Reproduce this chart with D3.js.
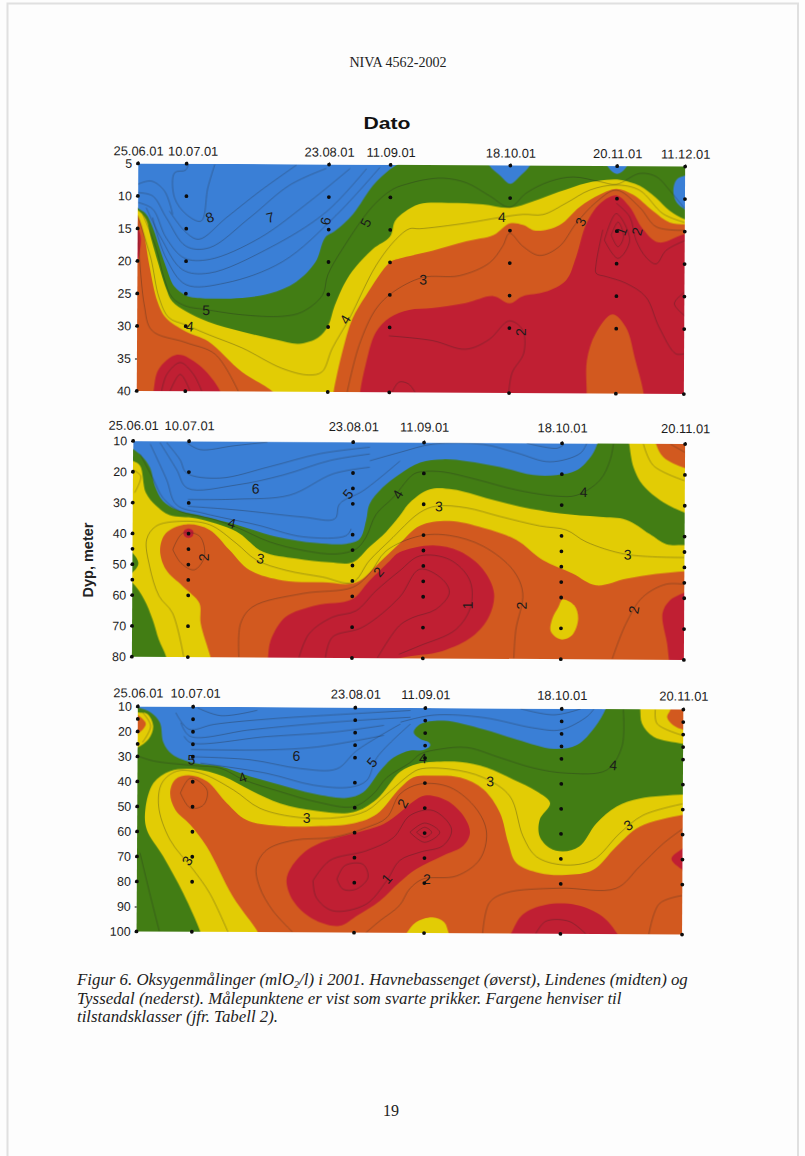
<!DOCTYPE html>
<html>
<head>
	<title></title>
	<script src="https://d3js.org/d3.v7.min.js"></script>
	<style>
		body { margin: 0; background: #fdfdfd; }
		svg { display: block; }
	</style>
</head>
<body>

<script>

var width = 805
var height = 1156

var colors = {blue: '#3a7fd6', green: '#427d14', yellow: '#e2cc05', orange: '#d2591f', red: '#c01f33'}

// sampling dates, days since 25.06.01
var days1 = [0, 15, 59, 78, 115, 148, 169]
var dates1 = ['25.06.01', '10.07.01', '23.08.01', '11.09.01', '18.10.01', '20.11.01', '11.12.01']
var days2 = [0, 15, 59, 78, 115, 148]
var dates2 = ['25.06.01', '10.07.01', '23.08.01', '11.09.01', '18.10.01', '20.11.01']

var yTicks1 = [5, 10, 15, 20, 25, 30, 35, 40]
var yTicks2 = [10, 20, 30, 40, 50, 60, 70, 80]
var yTicks3 = [10, 20, 30, 40, 50, 60, 70, 80, 90, 100]

// measuring depths per date
var samples1 = [[5, 10, 15, 20, 25, 30, 40], [5, 10, 15, 20, 25, 30, 40], [5, 10, 15, 20, 25, 30, 40], [5, 10, 15, 20, 25, 30, 40], [5, 10, 15, 20, 25, 30, 40], [5, 10, 15, 20, 25, 30, 40], [5, 10, 15, 20, 25, 30, 40]]
var samples2 = [[10, 20, 30, 40, 45, 50, 55, 60, 70, 80], [10, 20, 30, 40, 45, 50, 55, 60, 70, 80], [10, 20, 25, 30, 40, 45, 50, 55, 60, 70, 80], [10, 20, 30, 40, 45, 50, 55, 60, 70, 80], [10, 20, 30, 40, 45, 50, 55, 60, 70, 80], [10, 20, 30, 40, 45, 50, 55, 60, 70, 80]]
var samples3 = [[10, 15, 20, 25, 30, 40, 50, 60, 70, 80, 100], [10, 15, 20, 25, 30, 40, 50, 60, 70, 80, 100], [10, 15, 20, 25, 30, 40, 50, 60, 70, 80, 100], [10, 15, 20, 25, 30, 40, 50, 60, 70, 80, 100], [10, 15, 20, 25, 30, 40, 50, 60, 70, 80, 100], [10, 15, 20, 25, 30, 40, 50, 60, 70, 80, 100]]

// class areas as [day, depth], painted in this order
var areas1 = [
	['green', [[-5,10],[0,11.9],[2.6,12.8],[4.7,14.9],[6.8,18],[8.9,21],[11.4,23.9],[15,25.25],[18,25.6],[32.5,25.6],[41,24.9],[49,23.1],[55,20],[58,16.2],[61,15.2],[66.5,12.6],[72.6,8.2],[77.8,5.7],[81,4.6],[86,2],[176,2],[176,45],[-5,45]]],
	['blue', [[107,3],[108.5,5],[112,6.6],[115,7.8],[118,6.6],[121,5],[122,3]]],
	['blue', [[144,3],[145,5],[148,6.2],[151,5],[152,3]]],
	['blue', [[172,6],[169,6.4],[166.4,7],[165.4,8.7],[166.4,10.5],[169,11.6],[172,12.5]]],
	['yellow', [[-5,11],[0,12.2],[2.6,13.6],[4.1,16.4],[6.2,20],[8.8,24.1],[10.8,26.2],[15,27.7],[22,29.3],[32.5,30.8],[43,32],[50,32.6],[56,31.6],[59,29.8],[61,26.7],[65.5,22],[72.6,18],[78,16],[79.5,13.6],[82.5,12.2],[87,11],[96,10.8],[106.6,11],[115,11.5],[122,10.5],[130,9],[138.6,7.6],[144.7,7.1],[149,7.1],[155,8],[160,9.8],[164.3,11.8],[169,13.1],[175,13.6],[175,45],[-5,45]]],
	['orange', [[-4,11],[0,13.1],[2,16],[3.6,20.5],[6.2,26.2],[8.8,28.7],[15,30.8],[22,32.3],[32.5,37],[41.7,39.9],[45,42],[-4,44]]],
	['orange', [[60,43],[60.8,40],[63.4,33.9],[66.5,28.7],[70.6,25.15],[78,20],[81,19.4],[91,18.2],[101.5,16.7],[110,15.7],[115,13.9],[119,14.1],[123,15],[130.3,14.1],[136.5,11.3],[142.7,9.4],[147.8,8.5],[153,9.4],[159,11.8],[164.3,13.6],[169,13.9],[174,14],[174,44],[60,44]]],
	['red', [[-2,14],[0,14.9],[1,16.4],[0.7,18.5],[0,20],[-2,21]]],
	['red', [[4.5,43],[5.2,40],[6.7,36.7],[12.4,34.4],[19,35.9],[25.8,40],[27,43]]],
	['red', [[68.5,43],[69,40],[70.6,35.9],[73.7,30.8],[78,28.5],[84,27.3],[91,27],[101.5,26.2],[110,25.1],[115,26.2],[119,25.1],[126,24.4],[132.4,22.6],[135.5,19],[138.6,13.9],[142.7,10.8],[147.8,9.5],[152,11.3],[156,14.6],[161,16.7],[169,15.4],[174,15.2],[174,44]]],
	['orange', [[139,43],[139,40],[139,34.9],[141.6,30.8],[146.8,27.8],[151,29.8],[154,34.9],[156.6,40],[157,43]]]
]

var areas2 = [
	['green', [[-3,10.5],[0,12.7],[2.3,14.9],[4.6,18.7],[5.9,24.6],[8.1,29.5],[11.7,32.2],[17,33.8],[27.8,37],[38.5,40.8],[49.2,42.8],[57.3,43],[60.9,41.4],[62.6,35.4],[63.5,30],[67,24.6],[71.6,20.2],[77,16.5],[83.2,15.4],[89.5,16],[98.4,17.8],[107.3,20.3],[113.6,20.3],[119,18.7],[123,13.8],[124.5,10],[125.2,7],[153,6],[153,85],[-3,85]]],
	['yellow', [[-3,15],[0,16.5],[1.9,18],[3.5,26.8],[6.3,31],[9.9,34],[17,35],[27.8,39.2],[34.9,45.7],[43.9,47.9],[52.8,49],[59,49],[63.5,44],[68,39],[71.6,33.8],[74.3,29.5],[79.6,25.2],[85.9,25.2],[94.8,27.9],[103.8,30.6],[114.5,32.7],[125.2,33.8],[132.4,34.7],[138.6,39.2],[143.1,42.5],[148,42.8],[153,43],[153,85],[-3,85]]],
	['yellow', [[132.5,6],[133,10],[134.2,17.6],[136.8,23.5],[142.2,28.9],[148,32.2],[153,34],[153,6]]],
	['orange', [[139.5,6],[140.2,10],[142.2,14.3],[148,17.8],[153,19],[153,6]]],
	['green', [[-3,54],[0,56],[3.2,61.4],[5.5,67.9],[7.2,74.4],[9.2,80],[10,85],[-3,85]]],
	['green', [[-2,45],[0,46.3],[1.6,49.7],[0,52.7],[-2,54]]],
	['orange', [[22,85],[21.1,80],[18.4,69],[18,62.5],[13.5,57],[9,51.7],[7.4,45.2],[9,39.8],[14.4,37],[20.6,38.7],[26,45.2],[31.4,51.7],[40.3,55],[51,55.5],[60,55.5],[66.2,49],[71.6,42.8],[77,37],[85,35.4],[94,37.6],[102.9,41.4],[110,47.9],[118,52.2],[124.3,56],[132.4,53.8],[140.4,52.2],[148,51.3],[153,51],[153,85]]],
	['yellow', [[115.4,60.6],[118.5,62.5],[119.6,66.8],[118,72.2],[115,73.6],[112.3,71.1],[112.7,66.8],[114.3,63]]],
	['red', [[36,85],[36.5,80],[37.2,74.4],[41.2,66.8],[49.2,63],[59,60.9],[63.5,55],[69,48.4],[71.6,45.6],[80.5,43.3],[87.7,45.2],[94,51],[97,58.7],[95.7,66.3],[91.3,72.8],[83.2,77.6],[71.6,80],[60,85]]],
	['red', [[152,56],[148,58.2],[144,60.9],[142.2,65],[143.5,74.9],[144,80],[144.5,85],[152,85]]],
	['red', [[13.8,39],[15,38.3],[16.2,39],[16.2,40.6],[15,41.4],[13.8,40.6]]]
]

var areas3 = [
	['green', [[-3,9],[0,10.4],[3.5,12.4],[6,16.4],[7,24.4],[9.4,29.1],[15.3,32.5],[22.5,33.8],[30.6,37.8],[38.8,41.1],[47.8,44.5],[56.8,46.1],[61.3,43.8],[65.9,35.1],[69.5,29.8],[74,27],[77.6,26.8],[79.4,25],[79,23.7],[76.7,22.4],[74.9,19.7],[76.7,16.4],[83,15],[93.9,18.4],[102.9,22.4],[112.9,26],[119.2,24.4],[124.1,17.1],[126.9,10],[127.8,6],[153,6],[153,105],[-3,105]]],
	['yellow', [[-2,12],[0,12.4],[2.6,13],[4.2,17.8],[3,23],[0,26.4],[-2,27]]],
	['orange', [[-2,12.5],[0,13.5],[2.2,17],[0,21],[-2,22]]],
	['yellow', [[18,104],[17.3,100],[12.6,84.6],[7.1,69.9],[2.6,59.2],[2.2,51.2],[4.4,40.5],[8.9,35.8],[15.3,34.9],[23.4,37.8],[30.6,43.2],[38.8,48.5],[48.7,51.4],[58.6,51.8],[65,46.5],[71.3,35.5],[75.8,32.4],[80.3,31.5],[87.6,31.5],[94.8,33.7],[102,38.4],[108.3,43],[112,47.7],[109.2,54.4],[109.2,61],[112,65.7],[115.6,67],[120,65],[124.6,55.7],[130,49],[136.3,45.7],[148,44],[153,43.8],[153,104]]],
	['yellow', [[136,6],[136.3,10],[136.8,15.7],[140,21],[148,23.7],[153,25],[153,6]]],
	['orange', [[144.5,6],[144.5,10],[143.6,13],[145.4,16.4],[148,18],[152,19],[152,6]]],
	['orange', [[34,104],[32.9,100],[26.1,85.9],[18.9,65.9],[14.4,57.2],[10.3,51.2],[8.9,44.5],[10.3,39.1],[13.9,37.4],[18.9,39.8],[24.3,48.5],[29.7,55.2],[38.8,57.5],[48.7,57.5],[58.6,56.3],[65,52.5],[71.3,42],[74.9,37.7],[80.3,37],[87.6,37.7],[93.9,42.4],[98.4,51.7],[100.7,63.7],[102.9,71.7],[109.2,75.7],[116.5,76.4],[123.7,74.4],[130,65],[136.3,57],[148,52.1],[153,51],[153,104]]],
	['yellow', [[72,103],[73.3,100],[75.8,95.7],[80.3,93.7],[83.5,95.7],[84.7,100],[85.5,103]]],
	['red', [[40.6,79.3],[41.9,73.9],[46,67.2],[51.4,63.2],[58.6,60.3],[66.8,56.5],[71.3,51.8],[74,48.4],[78,45],[84,47],[88.5,53],[90.3,59.7],[88.5,65],[83,69],[75.8,74.4],[71.3,79.7],[65.9,87.3],[60,93],[55,97.3],[47.8,94.6],[42.4,87.3]]],
	['red', [[100.5,103],[101.6,100],[104.7,92.4],[111,88.4],[119.2,88.4],[126.4,93],[130.5,100],[131.5,103]]],
	['red', [[152,63],[148,65.7],[145,69.7],[148,74],[152,76]]]
]

// isolines as [day, depth]
var lines1 = [
	[[1.5,12.8],[5.7,17.9],[8.2,22.5],[10.8,25.6],[15,26.9],[21,27.4],[32.5,28.2],[44.8,28.4],[51,27.7],[57.2,25.1],[58.8,22],[63.4,17.9],[72.7,11.3],[78.9,8.7],[84,7.8],[88.1,7.3],[94.3,7],[101.5,7.7],[108.7,9.7],[114.9,11.4],[120,9.2],[127.2,7.4],[134.5,6.7],[142.7,7.4],[147.8,7.8],[155,6.1],[160.2,6.6],[164.3,8.7],[169,11.5]],
	[[0,13],[4.1,19.5],[6.7,25.6],[9.8,28.7],[15,29.8],[22.2,31.3],[32.5,33.3],[44.8,36.4],[53.1,37.4],[57.2,36.9],[60.3,33.3],[65.5,28.7],[73.7,20.5],[79.9,16.4],[84,14.8],[87.1,14.8],[101.5,13.9],[111.8,13],[119,12.5],[125.2,12.5],[132.4,10.7],[139.6,8.7],[147.8,7.9],[155,8.7],[162.3,12.3],[169,13.6]],
	[[0,14.3],[2.1,26.6],[4.6,30.7],[15,32.5],[24.2,34.3],[31.4,40]],
	[[65,40],[68.6,32.8],[73.7,27.2],[78.9,24.6],[88.1,22.3],[99.4,22],[108.7,20],[112.8,17.4],[114.9,15.4],[119,17.4],[124.2,18.8],[130.3,17.4],[135.5,13.8],[141.7,10.5],[147.8,8.7],[155,11.3],[160.2,14.3],[169,14.8]],
	[[77.8,31.3],[91.2,32],[101.5,33.3],[108.7,31.8],[114.9,28.9],[119,30.2],[119.5,33.8],[115.9,36.9],[114.9,40]],
	[[78.9,40],[81,38.4],[84,38.7],[86,40]],
	[[143.7,14.8],[141.7,20],[141.7,21.5],[144.8,22],[150.9,23],[157.1,25.1],[161.2,29.7],[166.4,33.8],[169,33.8]],
	[[147.8,10.7],[152,12.8],[154,16.4],[157.1,19],[160.2,20],[163.3,17.9],[169,16.4]],
	[[144.2,16.4],[147.8,12.3],[152,16.4],[148.4,19.2],[144.2,16.4]],
	[[146.3,15.6],[148.4,13.6],[150.1,15.9],[148.4,17.4],[146.3,15.6]],
	[[169,24.3],[165.9,26.1],[169,27.9]],
	[[7.7,40],[9.3,37.4],[13.4,35.6],[17.5,37.4],[20.1,40]],
	[[10.3,40],[13.4,37.4],[16.5,40]],
	[[49,5.1],[37.6,9.2],[27.3,13.3],[19,16.6],[15,15.6],[9.8,12.3]],
	[[58.2,5.6],[46.9,8.2],[34.5,13.3],[22.2,17.9],[15,17.7],[8.8,13.3],[4.6,10],[0,9.5]],
	[[65.5,5.6],[53.1,10.7],[37.6,16.4],[22.2,19.7],[14.4,19.5],[8.8,16.4],[4.6,12],[0,11]],
	[[70.6,5.6],[58.2,12.3],[40.7,17.9],[22.2,21.8],[13.9,21.3],[7.2,16.4],[2.6,11.8]],
	[[74.7,5.4],[61.3,12.8],[44.8,20],[27.3,23.3],[15,23.6],[8.8,19.5],[4.6,13.3]],
	[[23.7,5.1],[21.6,8.7],[19.6,13.8],[15,12.8],[11.3,10.2],[11.3,6.4],[14.7,6],[15.5,5.1]],
	[[0,8.2],[4.1,7.7],[8.2,9.2],[10.8,12.8]]
]

var lines2 = [
	[[1.9,14.3],[5.5,22.4],[8.1,28.4],[12.6,32.7],[20.6,34.9],[27.8,37.8],[36.7,42.5],[45.7,45.2],[54.6,46.3],[60,44.6],[62.6,40.8],[65.3,33.3],[69.8,27.9],[75.2,20.3],[77.9,19.4],[83.2,19.5],[92.2,21.9],[102.9,25.2],[113.6,27.1],[119,26.8],[125.2,21.9],[127.9,15.4],[128.8,10]],
	[[13.9,80],[10.8,65.7],[7.2,60.3],[4.6,50.6],[3.8,41.9],[6.3,37.6],[12.6,36],[20.6,37],[27.8,43],[33.2,48.4],[41.2,51.7],[51,53.8],[59,55.5],[63.5,48.4],[68.9,41.9],[77,32.7],[81.4,30.6],[89.5,31.1],[98.4,33.8],[109.1,36.8],[116.3,38.1],[121.6,41.9],[132.4,45.9],[148,46.8]],
	[[0,19.4],[2.1,21.4],[0.5,26.8]],
	[[136.8,10],[139.5,17],[148,21.9]],
	[[10.8,45.2],[13.5,39.8],[18,40.8],[19.3,47.3],[16.6,51.7],[13,49.5],[10.8,45.2]],
	[[28.7,80],[29.1,69],[32.3,63.6],[45.7,59.2],[59,57.1],[63.5,52.7],[68,45.2],[77,40.3],[85,40.1],[94,43.5],[102,51.1],[104.7,58.7],[102.9,70.6],[102.4,79.8]],
	[[128.8,79.8],[132.4,68.4],[136.8,59.8],[143.1,55.5],[148,55.5]],
	[[144,10],[148,12.7]],
	[[44.8,80],[47.5,72.2],[53.7,66.8],[60,64.7],[65.3,58.2],[71.6,51.7],[77,46.8],[85,47.9],[90.4,54.4],[90.8,62.9],[86.8,70.6],[77,76],[71.6,78.7]],
	[[51.9,80],[53.7,73.3],[61.8,70],[71.6,60.3],[77,51.1],[83.2,54.4],[85,58.7],[81.4,64.1],[75.2,66.8],[71.6,69.5],[65.8,80]],
	[[9,10.5],[12.6,16],[14.4,20.3],[23.3,21.9],[36.7,18.1],[50.1,13.8],[63.5,11.6]],
	[[7.2,10.5],[11.7,19.2],[14.6,25.2],[27.8,24.1],[40.3,20.8],[52.8,16],[63.5,13.8]],
	[[14.8,28.9],[27.8,28.7],[42.1,27.3],[53.7,20.3],[63.5,18.1]],
	[[14.8,31.1],[27.8,32.2],[45.7,34.4],[54.2,34.9],[55.5,30],[61.8,25.7],[71.6,16]],
	[[4.6,11],[9,22.4],[11.7,30.6],[18.9,33.3],[33.2,37],[45.7,40.8],[57.3,40.3],[58.6,38.1]],
	[[14.4,10.5],[18,12.7],[27,11.4],[36,10.2]],
	[[63.5,16],[71.6,13.2],[80.5,10.5],[93.9,10.5],[102.9,13.2],[111.8,16],[119.9,13.2],[121.6,10]],
	[[105.6,10],[113.6,11.6],[115.4,10.5]]
]

var lines3 = [
	[[0,29.8],[4.4,31.8],[15.3,33.5],[22.5,34.5],[28.8,39.1],[38.8,43.8],[48.7,47.8],[58.6,49.6],[64,44.5],[67.7,37.8],[74,31.8],[76.7,28.4],[82.1,26.4],[89.4,25.7],[98.4,29.7],[107.4,33.7],[116.5,35.7],[127.3,34.4],[131.4,25],[131.7,10]],
	[[24.8,100],[19.8,84.6],[15.3,75.2],[8.9,63.2],[5.8,49.8],[6.7,40.5],[10.7,35.8],[17.1,36.5],[26.1,43.2],[33.3,50.5],[44.2,54.1],[55,53.9],[62.2,51.2],[67.7,44.5],[74,36.5],[76.7,34.4],[84.9,34.4],[93.9,37.7],[101.1,45.1],[104.7,61.1],[108.3,69.1],[115.6,72.4],[123.7,70.4],[130.9,59.7],[137.2,52.4],[148,47.7]],
	[[0.8,68.6],[3.5,84.6],[6.2,100]],
	[[140.4,10],[140.9,15.7],[148,20.4]],
	[[1.3,12.4],[3.5,17.8],[1.3,24.4]],
	[[11.7,44.5],[14.4,38.5],[18.9,43.2],[18,49.2],[14.4,50.5],[11.7,44.5]],
	[[42.4,100],[36.9,91.3],[33.3,81.9],[32.4,73.9],[35.1,67.2],[42.4,63.2],[53.2,61.9],[62.2,57.9],[67.7,53.9],[71.3,44.4],[76.7,40.4],[84.9,41.7],[92.1,50.4],[94.8,59.7],[93,70.4],[86.7,77.1],[77.6,78.4],[74,82.4],[71.3,89],[65.9,95.3],[62.2,100]],
	[[93.9,100],[95.7,87.7],[100.2,83.7],[114.7,81.7],[130,81.7],[136.3,73],[142.7,63.7],[148,57.7]],
	[[139,100],[141.8,87.7],[148,84.4]],
	[[47.8,79.3],[52.3,71.2],[62.2,67.2],[69.5,61.9],[74,53],[80.3,51],[85.3,58.4],[83,65],[76.7,67.7],[71.3,71],[67.7,79.3],[62.2,88.6],[53.2,91.3],[48.7,86],[47.8,79.3]],
	[[54.3,78.6],[56.4,73.2],[61.3,72.6],[62.7,77.9],[59.5,82.6],[55.9,82.6],[54.3,78.6]],
	[[74,59.7],[78,56],[82.1,59.7],[78,63.7],[74,59.7]],
	[[75.8,59.7],[78,57.7],[79.9,59.7],[78,61.7],[75.8,59.7]],
	[[108.3,100],[111,95],[117.4,95],[121.9,100]],
	[[16.2,10.4],[22.5,13.5],[32.4,11.3]],
	[[10.3,12.4],[13.9,19],[20.7,17],[35.1,14.8],[58.6,12.4],[74,11]],
	[[11.7,16.4],[14.2,21.8],[30.6,19.1],[48.7,16.4],[62.2,14.8],[74,13.7]],
	[[12.6,21.8],[14.4,24.4],[35.1,21.8],[53.2,19.8],[66.8,17]],
	[[14.5,27.1],[35.1,27.1],[48.7,25.8],[66.8,21]],
	[[14.8,30],[30.6,31.1],[44.2,34.5],[54.1,34.5],[59.5,27.1],[71.3,16.4]],
	[[17.1,32.5],[35.1,36.5],[47.8,41.1],[57.7,41.8],[62.2,39.1],[65,29.8],[74,16.4]],
	[[71.3,15.7],[80.3,12.8],[93.9,13.7],[107.4,17.7],[114.7,18.4],[121.9,13],[123.7,10]],
	[[103.8,10],[112.9,12.4],[120.1,10]]
]

// isoline labels: [text, day, depth, rotation]
var labels1 = [['8',22.2,13.2,-20],['7',40.9,13.2,-15],['6',58,13.7,-80],['5',70.4,13.9,-65],['5',21.3,27.5,0],['4',16.3,30,5],['4',64.2,28.8,-60],['4',112.5,12.9,0],['3',88.3,22.6,0],['3',136.8,13.6,-65],['1',149.4,15,-70],['2',154.2,15,-75],['2',118.5,30.6,-90]]
var labels2 = [['6',32.9,25.2,0],['5',57.7,26.8,-50],['4',26.6,36.5,15],['3',34.3,47.9,10],['2',19.1,47.6,-90],['2',66,52,-50],['4',71,26.8,-60],['1',89.9,62.7,-90],['2',104.4,62.7,-90],['2',134.5,63.8,-80],['3',82.1,30.6,0],['4',120.9,25.7,0],['3',132.8,45.9,0]]
var labels3 = [['6',43.1,29.4,0],['5',14.6,31.1,0],['5',63.6,31.8,-50],['4',28.5,38.2,-20],['3',46,54.1,0],['3',13.6,71.6,-55],['2',72,48.2,-60],['1',67.8,78.3,-50],['4',77.4,30.1,0],['3',95.7,39.1,0],['4',129.1,32.4,5],['3',133.2,56.4,-30],['2',78.7,78.4,0]]

var captionLines = ['Tyssedal (nederst). Målepunktene er vist som svarte prikker. Fargene henviser til', 'tilstandsklasser (jfr. Tabell 2).']

var panels = [
	{left: 137.4, right: 684.5, top: 165, bottom: 392.5, xMax: 169, yMin: 5, yMax: 40, days: days1, dates: dates1, yTicks: yTicks1, samples: samples1, areas: areas1, lines: lines1, labels: labels1, nudge: {1: 6}, dateGap: 6},
	{left: 132.5, right: 684.5, top: 442.5, bottom: 658.3, xMax: 148, yMin: 10, yMax: 80, days: days2, dates: dates2, yTicks: yTicks2, samples: samples2, areas: areas2, lines: lines2, labels: labels2, nudge: {}, dateGap: 9},
	{left: 137.2, right: 682.7, top: 708, bottom: 933, xMax: 148, yMin: 10, yMax: 100, days: days2, dates: dates2, yTicks: yTicks3, samples: samples3, areas: areas3, lines: lines3, labels: labels3, nudge: {1: 2}, dateGap: 7}
]

// the scanned page sits slightly askew
var tilt = 0.33

var svg = d3.select('body').append('svg')
	.attr('width', width)
	.attr('height', height)

// scanned page edge
svg.append('path')
	.attr('d', 'M7.5,1156V3.5H798V1156')
	.attr('fill', 'none')
	.attr('stroke', '#e0e0e0')
	.attr('stroke-width', 2)

var closedArea = d3.line().curve(d3.curveCatmullRomClosed.alpha(0.5))
var openLine = d3.line().curve(d3.curveCatmullRom.alpha(0.5))

panels.forEach(function(p, i){

	var x = d3.scaleLinear().domain([0, p.xMax]).range([p.left, p.right])
	var y = d3.scaleLinear().domain([p.yMin, p.yMax]).range([p.top, p.bottom])
	var project = function(d){ return [x(d[0]), y(d[1])] }

	var panel = svg.append('g')
		.attr('transform', 'rotate(' + tilt + ',' + (p.left + p.right) / 2 + ',' + (p.top + p.bottom) / 2 + ')')

	panel.append('clipPath').attr('id', 'clip' + i)
		.append('rect')
		.attr('x', p.left).attr('y', p.top)
		.attr('width', p.right - p.left).attr('height', p.bottom - p.top)

	var plot = panel.append('g')
		.attr('clip-path', 'url(#clip' + i + ')')
		.style('filter', 'blur(0.4px)')

	plot.append('rect')
		.attr('x', p.left).attr('y', p.top)
		.attr('width', p.right - p.left).attr('height', p.bottom - p.top)
		.attr('fill', colors.blue)

	plot.selectAll('path.area').data(p.areas).enter().append('path')
		.attr('class', 'area')
		.attr('fill', function(d){ return colors[d[0]] })
		.attr('d', function(d){ return closedArea(d[1].map(project)) })

	plot.selectAll('path.iso').data(p.lines).enter().append('path')
		.attr('class', 'iso')
		.attr('fill', 'none')
		.attr('stroke', '#222')
		.attr('stroke-opacity', 0.55)
		.attr('stroke-width', 0.6)
		.attr('d', function(d){ return openLine(d.map(project)) })

	panel.append('g').selectAll('text').data(p.labels).enter().append('text')
		.attr('transform', function(d){ return 'translate(' + x(d[1]) + ',' + y(d[2]) + ') rotate(' + d[3] + ')' })
		.attr('text-anchor', 'middle')
		.attr('dy', '0.36em')
		.attr('font-family', 'Liberation Sans')
		.attr('font-size', 14)
		.attr('fill', '#1a1a1a')
		.text(function(d){ return d[0] })

	// axes
	var xAxis = d3.axisTop(x)
		.tickValues(p.days)
		.tickSize(2)
		.tickPadding(p.dateGap)
		.tickFormat(function(d, j){ return p.dates[j] })

	var gx = panel.append('g').attr('transform', 'translate(0,' + p.top + ')').call(xAxis)
	gx.select('.domain').remove()
	gx.selectAll('text')
		.attr('dx', function(d, j){ return p.nudge[j] || 0 })
		.attr('font-family', 'Liberation Sans')
		.attr('font-size', 12.9)
		.attr('fill', '#1c1c1c')

	var yAxis = d3.axisLeft(y)
		.tickValues(p.yTicks)
		.tickSize(2)
		.tickPadding(4)

	var gy = panel.append('g').attr('transform', 'translate(' + p.left + ',0)').call(yAxis)
	gy.select('.domain').remove()
	gy.selectAll('text')
		.attr('font-family', 'Liberation Sans')
		.attr('font-size', 12.4)
		.attr('fill', '#1c1c1c')

	// measuring points
	p.days.forEach(function(day, j){
		panel.append('g').selectAll('circle').data(p.samples[j]).enter().append('circle')
			.attr('cx', x(day))
			.attr('cy', function(d){ return y(d) })
			.attr('r', 1.9)
			.attr('fill', '#0c0c0c')
	})
})

// page text
svg.append('text')
	.attr('x', 398).attr('y', 67)
	.attr('text-anchor', 'middle')
	.attr('font-family', 'Liberation Serif')
	.attr('font-size', 14.1)
	.attr('fill', '#222')
	.text('NIVA 4562-2002')

svg.append('text')
	.attr('x', 387).attr('y', 129)
	.attr('text-anchor', 'middle')
	.attr('font-family', 'Liberation Sans')
	.attr('font-weight', 'bold')
	.attr('font-size', 17)
	.attr('textLength', 47)
	.attr('lengthAdjust', 'spacingAndGlyphs')
	.attr('fill', '#111')
	.text('Dato')

svg.append('text')
	.attr('transform', 'translate(93,560) rotate(-90)')
	.attr('text-anchor', 'middle')
	.attr('font-family', 'Liberation Sans')
	.attr('font-size', 14.5)
	.attr('font-weight', 'bold')
	.attr('fill', '#222')
	.text('Dyp, meter')

var caption = svg.append('g')
	.attr('font-family', 'Liberation Serif')
	.attr('font-style', 'italic')
	.attr('font-size', 16.85)
	.attr('fill', '#1c1c1c')
	.style('white-space', 'pre')

var first = caption.append('text').attr('x', 77).attr('y', 985)
first.append('tspan').text('Figur 6. Oksygenmålinger (mlO')
first.append('tspan').attr('font-size', 10).attr('dy', 3).text('2')
first.append('tspan').attr('dy', -3).text('/l) i 2001.  Havnebassenget (øverst), Lindenes (midten) og')

caption.selectAll('text.rest').data(captionLines).enter().append('text')
	.attr('class', 'rest')
	.attr('x', 77)
	.attr('y', function(d, i){ return 1004 + i * 17.5 })
	.text(function(d){ return d })

svg.append('text')
	.attr('x', 391).attr('y', 1116)
	.attr('text-anchor', 'middle')
	.attr('font-family', 'Liberation Serif')
	.attr('font-size', 16)
	.attr('fill', '#222')
	.text('19')

</script>

</body>
</html>
